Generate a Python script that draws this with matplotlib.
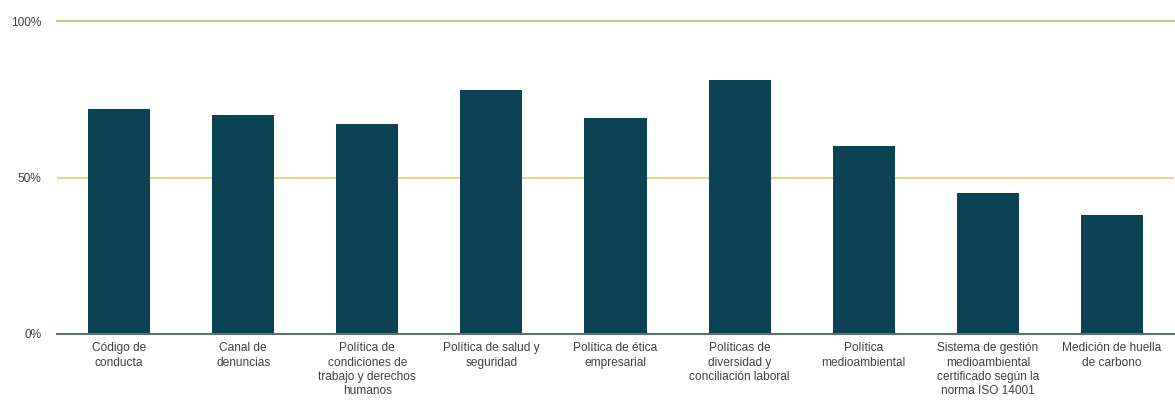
import numpy as np
import matplotlib.pyplot as plt

plt.rcParams['font.family'] = ['Liberation Sans', 'DejaVu Sans']

# categories and values (percent)
categorias = ['Código de\nconducta',
              'Canal de\ndenuncias',
              'Política de\ncondiciones de\ntrabajo y derechos\nhumanos',
              'Política de salud y\nseguridad',
              'Política de ética\nempresarial',
              'Políticas de\ndiversidad y\nconciliación laboral',
              'Política\nmedioambiental',
              'Sistema de gestión\nmedioambiental\ncertificado según la\nnorma ISO 14001',
              'Medición de huella\nde carbono']
valores = [72, 70, 67, 78, 69, 81, 60, 45, 38]
y_ticks = [0, 50, 100]
y_labels = ['0%', '50%', '100%']

fig = plt.figure(figsize=(11.75, 4.03), dpi=100)
ax = fig.add_axes([57/1175, (403-334)/403, (1174-57)/1175, (334-21)/403])

x = np.arange(len(categorias))
#reference lines
ax.axhline(100, color='#b3cd86', lw=1.5, zorder=1, clip_on=False)
ax.axhline(50, color='#f0d28a', lw=1.5, zorder=1)
ax.bar(x, valores, width=0.5, color='#0b4354', zorder=2)
ax.axhline(0, color='#5c6f73', lw=1.5, zorder=3, clip_on=False)

ax.set_xlim(-0.5, len(categorias) - 0.5)
ax.set_ylim(0, 100)
ax.set_xticks(x)
ax.set_xticklabels(categorias, fontsize=8.6, color='#404040', linespacing=1.25)
ax.set_yticks(y_ticks)
ax.set_yticklabels(y_labels, fontsize=8.6, color='#404040')
ax.tick_params(axis='both', length=0)
ax.tick_params(axis='x', pad=6)
ax.tick_params(axis='y', pad=11)
for s in ax.spines.values():
    s.set_visible(False)

fig.savefig('out.png', dpi=100)
